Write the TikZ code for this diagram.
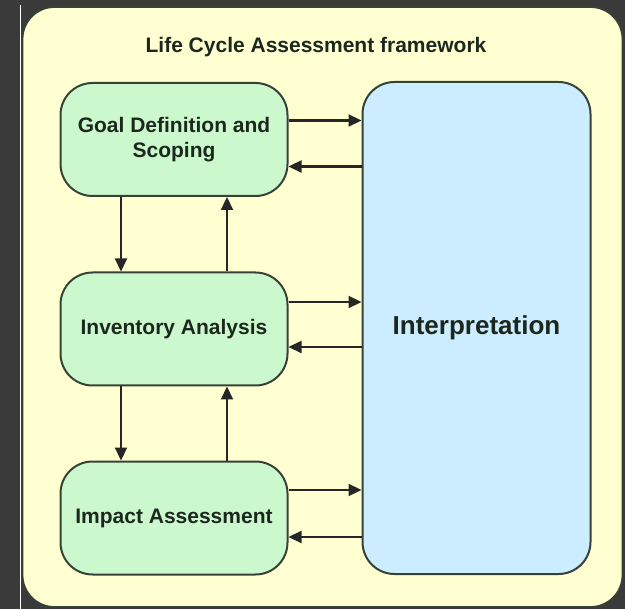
\documentclass[tikz,border=0pt]{standalone}
\usepackage{fontspec}
\setmainfont{Liberation Sans}
\usetikzlibrary{arrows.meta}
\definecolor{bgc}{RGB}{58,58,58}
\definecolor{framefill}{RGB}{255,255,210}
\definecolor{greenbox}{RGB}{204,248,206}
\definecolor{bluebox}{RGB}{204,236,255}
\definecolor{edgec}{RGB}{55,66,55}
\definecolor{txtc}{RGB}{28,40,30}
\begin{document}
\begin{tikzpicture}[x=1pt,y=-1pt,
  stagebox/.style={draw=edgec, line width=2pt, fill=greenbox, rounded corners=32pt,
    minimum width=227pt, minimum height=113pt, inner sep=0pt, align=center,
    text=txtc, font=\bfseries\fontsize{21}{25}\selectfont},
  interpbox/.style={draw=edgec, line width=2pt, fill=bluebox, rounded corners=32pt,
    minimum width=228pt, minimum height=492pt, inner sep=0pt,
    text=txtc, font=\bfseries\fontsize{26}{30}\selectfont},
  flow/.style={draw=black!85, line width=2.2pt, -{Triangle[length=13pt,width=12pt]}}
]
% background and bounding box
\fill[bgc] (0,0) rectangle (625,609);
\draw[white, line width=1.6pt] (20.6,5) -- (20.6,609);
% outer frame
\draw[edgec, line width=1.8pt, fill=framefill, rounded corners=32pt] (22.5,7) rectangle (622.5,607);
\node[text=txtc, font=\bfseries\fontsize{21}{25}\selectfont] (title) at (316,47) {Life Cycle Assessment framework};
% boxes
\node[stagebox] (goal) at (174,139.5) {Goal Definition and\\Scoping};
\node[stagebox] (inv) at (174,329) {Inventory Analysis};
\node[stagebox] (imp) at (174,518) {Impact Assessment};
\node[interpbox] (interp) at (476.5,328) {Interpretation};
% horizontal connectors
\draw[flow] ([yshift=19pt]goal.east) -- ([yshift=19pt]goal.east -| interp.west);
\draw[flow] ([yshift=-27pt]goal.east -| interp.west) -- ([yshift=-27pt]goal.east);
\draw[flow] ([yshift=27pt]inv.east) -- ([yshift=27pt]inv.east -| interp.west);
\draw[flow] ([yshift=-18pt]inv.east -| interp.west) -- ([yshift=-18pt]inv.east);
\draw[flow] ([yshift=28pt]imp.east) -- ([yshift=28pt]imp.east -| interp.west);
\draw[flow] ([yshift=-19pt]imp.east -| interp.west) -- ([yshift=-19pt]imp.east);
% vertical connectors
\draw[flow] ([xshift=-53pt]goal.south) -- ([xshift=-53pt]inv.north);
\draw[flow] ([xshift=53pt]inv.north) -- ([xshift=53pt]goal.south);
\draw[flow] ([xshift=-53pt]inv.south) -- ([xshift=-53pt]imp.north);
\draw[flow] ([xshift=53pt]imp.north) -- ([xshift=53pt]inv.south);
\end{tikzpicture}
\end{document}
